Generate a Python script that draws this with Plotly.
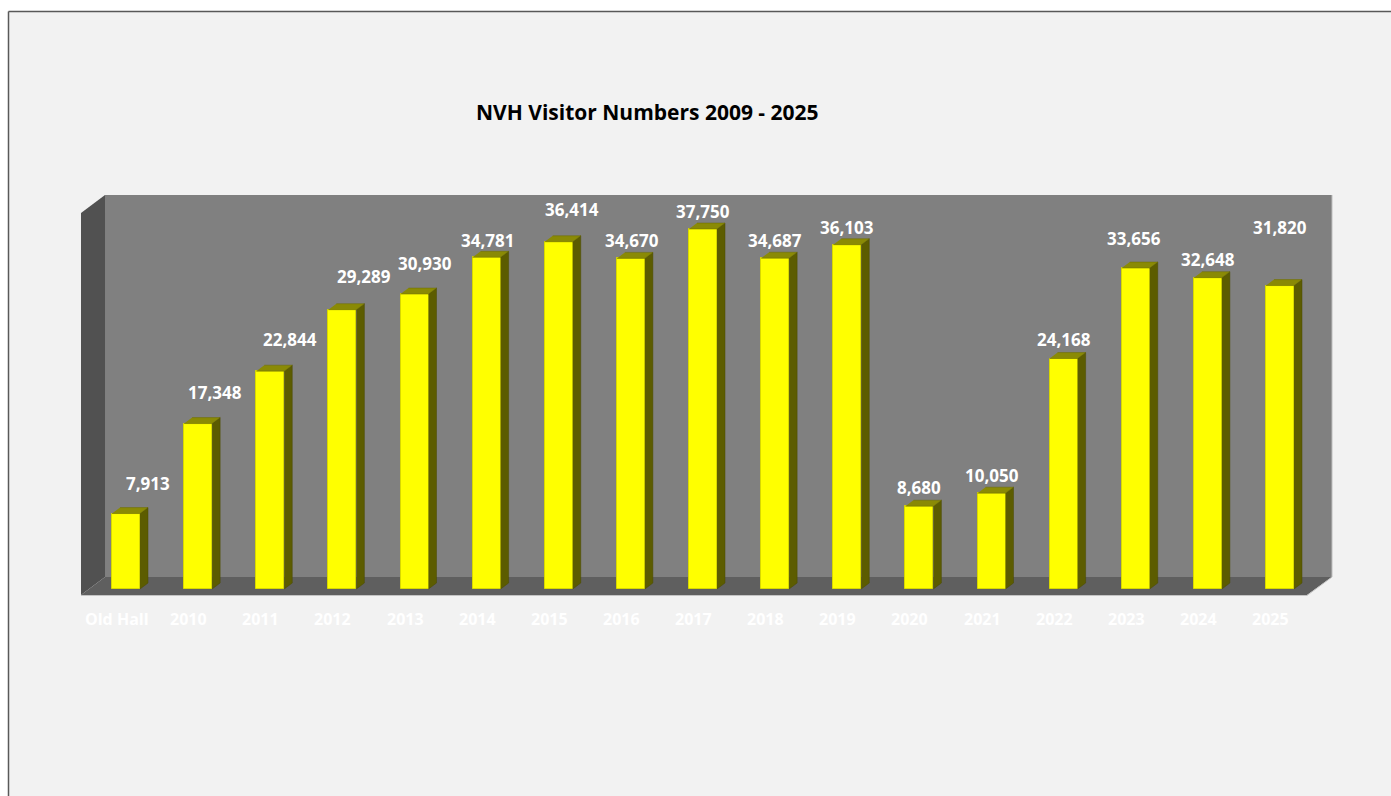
import plotly.graph_objects as go

# ---------------- data ----------------
categories = ["Old Hall", "2010", "2011", "2012", "2013", "2014", "2015", "2016",
              "2017", "2018", "2019", "2020", "2021", "2022", "2023", "2024", "2025"]
visitors = [7913, 17348, 22844, 29289, 30930, 34781, 36414, 34670,
            37750, 34687, 36103, 8680, 10050, 24168, 33656, 32648, 31820]
title_text = "NVH Visitor Numbers 2009 - 2025"

# ---------------- layout geometry (pixels) ----------------
W, H = 1391, 796
X0_PX, X_STEP = 126.0, 72.125        # pixel of first category, pixels per category
Y0_PX, Y_SCALE = 589.0, 0.009536     # pixel of value 0, pixels per visitor
HALF_W = 14.0                         # half width of bar front face (px)
DEPTH_X, DEPTH_Y = 8.0, 6.0           # bar depth offset (px)

# label offsets (px) relative to bar front top-centre (Excel 3D placement)
label_offsets = [(22, -30), (17, -31), (20, -32), (22, -33), (10, -31), (1, -17),
                 (13, -32), (1, -18), (0, -18), (0, -18), (0, -17), (0, -19),
                 (0, -18), (0, -19), (-2, -30), (0, -18), (0, -58)]

FONT = "Open Sans, Lato, DejaVu Sans, sans-serif"

def px2paper_x(px):
    return px / W

def px2paper_y(py):
    return 1 - py / H

def poly_path(points):
    pts = [(px2paper_x(x), px2paper_y(y)) for x, y in points]
    return "M " + " L ".join(f"{x:.5f},{y:.5f}" for x, y in pts) + " Z"

x_range = [(0 - X0_PX) / X_STEP, (W - X0_PX) / X_STEP]
y_range = [(Y0_PX - H) / Y_SCALE, Y0_PX / Y_SCALE]

dx = DEPTH_X / X_STEP
dy = DEPTH_Y / Y_SCALE
hw = HALF_W / X_STEP

idx = list(range(len(categories)))

fig = go.Figure()

# front faces
fig.add_trace(go.Bar(
    x=idx, y=visitors, width=2 * hw,
    marker=dict(color="#ffff00", line=dict(color="#d8d800", width=1)),
    hoverinfo="skip", showlegend=False,
))

# side faces
sx, sy = [], []
for i, v in zip(idx, visitors):
    sx += [i + hw, i + hw + dx, i + hw + dx, i + hw, None]
    sy += [0, dy, v + dy, v, None]
fig.add_trace(go.Scatter(
    x=sx, y=sy, mode="lines", fill="toself", fillcolor="#5c5c00",
    line=dict(color="#4a4a00", width=0.5), hoverinfo="skip", showlegend=False,
))

# top caps
cx, cy = [], []
for i, v in zip(idx, visitors):
    cx += [i - hw, i + hw, i + hw + dx, i - hw + dx, None]
    cy += [v, v, v + dy, v + dy, None]
fig.add_trace(go.Scatter(
    x=cx, y=cy, mode="lines", fill="toself", fillcolor="#8a8a05",
    line=dict(color="#6a6a00", width=0.5), hoverinfo="skip", showlegend=False,
))

annotations = []
# value labels
for i, v, (ox, oy) in zip(idx, visitors, label_offsets):
    annotations.append(dict(
        x=i, y=v, xref="x", yref="y", text=f"{v:,}", showarrow=False,
        xshift=ox, yshift=-oy, xanchor="center", yanchor="middle",
        font=dict(family=FONT, size=17, color="#ffffff", weight="bold"),
    ))
# category labels
for i, c in zip(idx, categories):
    annotations.append(dict(
        x=i, y=0, xref="x", yref="y", text=c, showarrow=False,
        xshift=-9.5, yshift=-30, xanchor="center", yanchor="middle",
        font=dict(family=FONT, size=16, color="#ffffff", weight="bold"),
    ))
# title
annotations.append(dict(
    x=px2paper_x(647), y=px2paper_y(112), xref="paper", yref="paper",
    text=title_text, showarrow=False, xanchor="center", yanchor="middle",
    font=dict(family=FONT, size=21, color="#000000", weight="bold"),
))

shapes = [
    # chart area fill
    dict(type="rect", xref="paper", yref="paper",
         x0=px2paper_x(8.5), y0=px2paper_y(11.5), x1=px2paper_x(W + 60), y1=px2paper_y(H + 60),
         fillcolor="#f2f2f2", line=dict(width=0), layer="below"),
    # chart border (top and left visible)
    dict(type="line", xref="paper", yref="paper",
         x0=px2paper_x(8.5), y0=px2paper_y(11.5), x1=px2paper_x(W + 60), y1=px2paper_y(11.5),
         line=dict(color="#595959", width=1.5), layer="below"),
    dict(type="line", xref="paper", yref="paper",
         x0=px2paper_x(8.5), y0=px2paper_y(11.5), x1=px2paper_x(8.5), y1=px2paper_y(H + 60),
         line=dict(color="#595959", width=1.5), layer="below"),
    # back wall
    dict(type="path", xref="paper", yref="paper",
         path=poly_path([(105, 195), (1332, 195), (1332, 577), (105, 577)]),
         fillcolor="#808080", line=dict(width=0), layer="below"),
    # right edge highlight of back wall
    dict(type="line", xref="paper", yref="paper",
         x0=px2paper_x(1332), y0=px2paper_y(195), x1=px2paper_x(1332), y1=px2paper_y(577),
         line=dict(color="#bdbdbd", width=1), layer="below"),
    # left wall
    dict(type="path", xref="paper", yref="paper",
         path=poly_path([(81, 213), (105, 195), (105, 577), (81, 595)]),
         fillcolor="#515151", line=dict(width=0), layer="below"),
    # floor
    dict(type="path", xref="paper", yref="paper",
         path=poly_path([(81, 595), (1307, 595), (1332, 577), (105, 577)]),
         fillcolor="#5f5f5f", line=dict(width=0), layer="below"),
    dict(type="line", xref="paper", yref="paper",
         x0=px2paper_x(81), y0=px2paper_y(595.5), x1=px2paper_x(1307), y1=px2paper_y(595.5),
         line=dict(color="#c4c4c4", width=1), layer="below"),
    dict(type="line", xref="paper", yref="paper",
         x0=px2paper_x(1307), y0=px2paper_y(595.5), x1=px2paper_x(1332), y1=px2paper_y(577),
         line=dict(color="#c4c4c4", width=1), layer="below"),
]

fig.update_layout(
    width=W, height=H, autosize=False,
    margin=dict(l=0, r=0, t=0, b=0, pad=0),
    paper_bgcolor="#ffffff", plot_bgcolor="rgba(0,0,0,0)",
    xaxis=dict(range=x_range, visible=False, fixedrange=True),
    yaxis=dict(range=y_range, visible=False, fixedrange=True),
    bargap=0, showlegend=False,
    shapes=shapes, annotations=annotations,
)

fig.write_html("out.html", config={"displayModeBar": False})
